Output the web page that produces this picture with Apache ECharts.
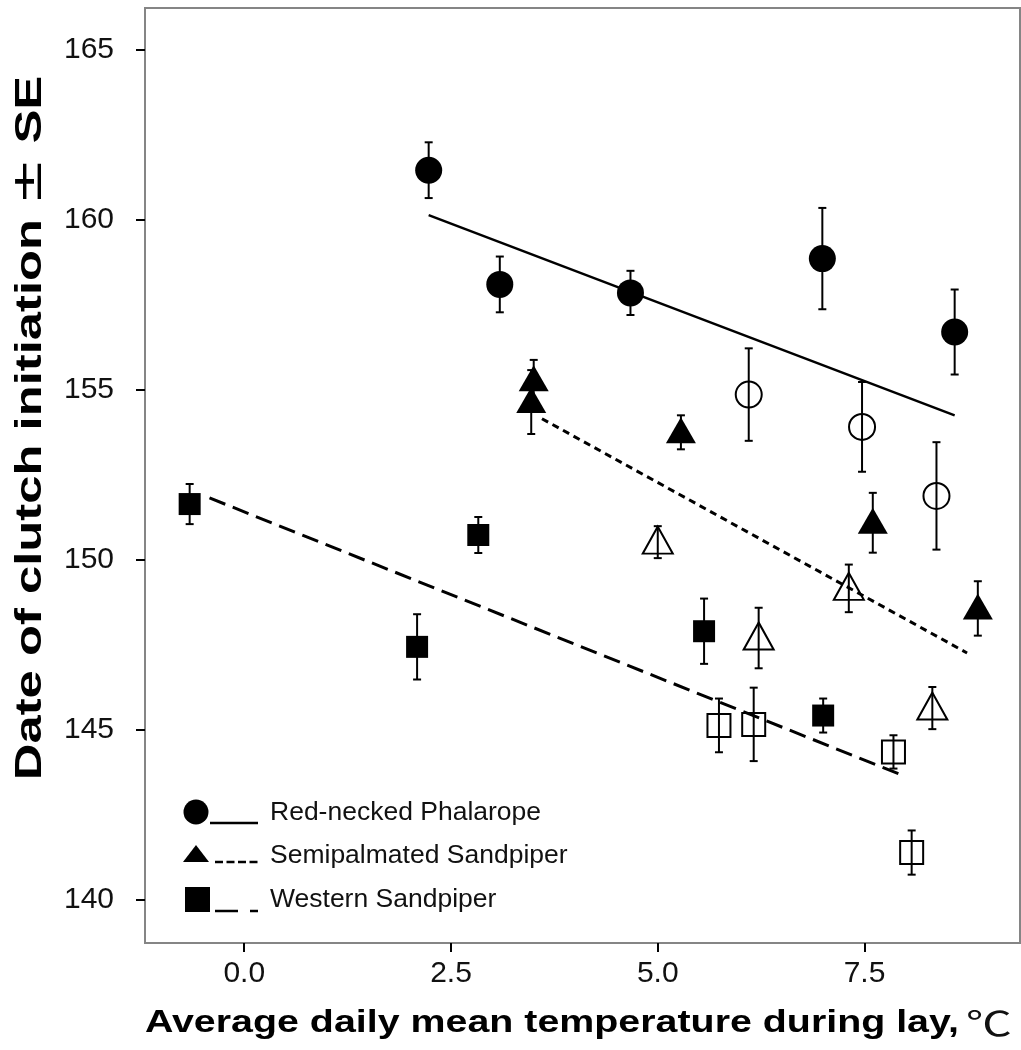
<!DOCTYPE html>
<html>
<head>
<meta charset="utf-8">
<script src="https://cdn.jsdelivr.net/npm/echarts@6/dist/echarts.min.js"></script>
<style>
  html, body { margin: 0; padding: 0; background: #fff; }
  #chart { width: 1021px; height: 1050px; }
</style>
</head>
<body>
<div id="chart"></div>
<script>
// Axis ticks
const xTicks = [0, 2.5, 5, 7.5];
const yTicks = [140, 145, 150, 155, 160, 165];

// Red-necked Phalarope: filled and open circles (mean date ± SE)
const phalTempFilled = [2.23, 3.09, 4.67, 6.99, 8.59];
const phalDateFilled = [161.47, 158.11, 157.86, 158.87, 156.71];
const phalSeFilled   = [0.82, 0.82, 0.65, 1.49, 1.25];
const phalTempOpen   = [6.10, 7.47, 8.37];
const phalDateOpen   = [154.87, 153.92, 151.89];
const phalSeOpen     = [1.36, 1.32, 1.58];

// Semipalmated Sandpiper: filled and open triangles
const semiTempFilled = [3.50, 3.47, 5.28, 7.60, 8.87];
const semiDateFilled = [155.29, 154.65, 153.76, 151.10, 148.58];
const semiSeFilled   = [0.60, 0.94, 0.50, 0.88, 0.80];
const semiTempOpen   = [5.00, 6.22, 7.31, 8.32];
const semiDateOpen   = [150.53, 147.71, 149.17, 145.65];
const semiSeOpen     = [0.47, 0.89, 0.70, 0.62];

// Western Sandpiper: filled and open squares
const westTempFilled = [-0.66, 2.09, 2.83, 5.56, 7.00];
const westDateFilled = [151.65, 147.45, 150.74, 147.91, 145.43];
const westSeFilled   = [0.59, 0.96, 0.53, 0.96, 0.50];
const westTempOpen   = [5.74, 6.16, 7.85, 8.07];
const westDateOpen   = [145.14, 145.17, 144.36, 141.40];
const westSeOpen     = [0.79, 1.08, 0.49, 0.65];

// Regression lines (end points)
const phalFitTemp = [2.23, 8.59];
const phalFitDate = [160.15, 154.26];
const semiFitTemp = [3.60, 8.74];
const semiFitDate = [154.16, 147.27];
const westFitTemp = [-0.42, 7.95];
const westFitDate = [151.83, 143.68];

const legendNames = ['Red-necked Phalarope', 'Semipalmated Sandpiper', 'Western Sandpiper'];
const xTitle = 'Average daily mean temperature during lay,';
const xUnit = '\u2103';
const yTitleHead = 'Date of clutch initiation ';
const yTitlePm = '\u00b1';
const yTitleTail = ' SE';

const INK = '#000';
const FONT = '"Liberation Sans", Arial, sans-serif';

const pairs = (xs, ys) => xs.map((x, i) => [x, ys[i]]);

function errorBars(xs, ys, se) {
  return {
    type: 'custom',
    silent: true,
    z: 1,
    encode: { x: 0, y: [1, 2] },
    data: xs.map((x, i) => [x, ys[i] - se[i], ys[i] + se[i]]),
    renderItem: (params, api) => {
      const lo = api.coord([api.value(0), api.value(1)]);
      const hi = api.coord([api.value(0), api.value(2)]);
      const cap = 4;
      const style = { stroke: INK, lineWidth: 2 };
      return {
        type: 'group',
        children: [
          { type: 'line', shape: { x1: lo[0], y1: lo[1], x2: hi[0], y2: hi[1] }, style },
          { type: 'line', shape: { x1: lo[0] - cap, y1: lo[1], x2: lo[0] + cap, y2: lo[1] }, style },
          { type: 'line', shape: { x1: hi[0] - cap, y1: hi[1], x2: hi[0] + cap, y2: hi[1] }, style }
        ]
      };
    }
  };
}

function points(xs, ys, symbol, size, filled, offset) {
  return {
    type: 'scatter',
    z: 3,
    symbol,
    symbolSize: size,
    symbolOffset: offset || [0, 0],
    data: pairs(xs, ys),
    itemStyle: filled
      ? { color: INK, borderWidth: 0, opacity: 1 }
      : { color: 'rgba(255,255,255,0)', borderColor: INK, borderWidth: 2, opacity: 1 },
    emphasis: { disabled: true }
  };
}

function fitLine(xs, ys, dash, width) {
  return {
    type: 'line',
    z: 2,
    symbol: 'none',
    data: pairs(xs, ys),
    lineStyle: { color: INK, width, type: dash },
    emphasis: { disabled: true }
  };
}

const chart = echarts.init(document.getElementById('chart'), null, { renderer: 'canvas' });

// Legend: marker, line sample and label per species
const legendX = 196, lineX1 = 215, lineX2 = 258, textX = 270;
const legendRows = [812, 855, 899];
const legendGraphics = [
  { type: 'circle', shape: { cx: legendX, cy: legendRows[0], r: 12.5 }, style: { fill: INK } },
  { type: 'line', shape: { x1: 210, y1: 823, x2: lineX2, y2: 823 }, style: { stroke: INK, lineWidth: 2.5 } },
  { type: 'polygon', shape: { points: [[legendX - 13, 862], [legendX, 845], [legendX + 13, 862]] }, style: { fill: INK } },
  { type: 'line', shape: { x1: lineX1, y1: 862, x2: lineX2, y2: 862 }, style: { stroke: INK, lineWidth: 2.5, lineDash: [8, 3.5] } },
  { type: 'rect', shape: { x: 185, y: 887, width: 25, height: 25 }, style: { fill: INK } },
  { type: 'line', shape: { x1: lineX1, y1: 911, x2: 238, y2: 911 }, style: { stroke: INK, lineWidth: 2.5 } },
  { type: 'line', shape: { x1: 250, y1: 911, x2: lineX2, y2: 911 }, style: { stroke: INK, lineWidth: 2.5 } }
].concat(legendNames.map((name, i) => ({
  type: 'text',
  x: textX, y: legendRows[i] + 1,
  scaleX: 1.06,
  style: {
    text: name, x: 0, y: 0,
    fontSize: 25, fontFamily: FONT, fill: '#111',
    align: 'left', verticalAlign: 'middle',
    textAlign: 'left', textVerticalAlign: 'middle'
  }
})));

const titleGraphics = [
  {
    type: 'text', x: 145, y: 1023, scaleX: 1.27,
    style: {
      text: xTitle, x: 0, y: 0,
      fontSize: 31, fontWeight: 'bold', fontFamily: FONT, fill: INK,
      align: 'left', verticalAlign: 'middle', textAlign: 'left', textVerticalAlign: 'middle'
    }
  },
  {
    type: 'text', x: 966, y: 1023, scaleX: 1.35,
    style: {
      text: xUnit, x: 0, y: 0,
      fontSize: 34, fontFamily: '"Noto Sans CJK SC", sans-serif', fill: '#111',
      align: 'left', verticalAlign: 'middle', textAlign: 'left', textVerticalAlign: 'middle'
    }
  },
  {
    type: 'text', x: 31, y: 428, rotation: Math.PI / 2, scaleX: 1.41,
    style: {
      text: '{b|' + yTitleHead + '}{n|' + yTitlePm + '}{b|' + yTitleTail + '}',
      x: 0, y: 0,
      fontSize: 36, fontWeight: 'bold', fontFamily: FONT, fill: INK,
      align: 'center', verticalAlign: 'middle', textAlign: 'center', textVerticalAlign: 'middle',
      rich: {
        b: { fontSize: 36, fontWeight: 'bold', fontFamily: FONT, fill: INK, color: INK },
        n: { fontSize: 40, fontWeight: 'normal', fontFamily: '"DejaVu Sans", sans-serif', fill: INK, color: INK }
      }
    }
  }
];

chart.setOption({
  animation: false,
  backgroundColor: '#fff',
  grid: {
    show: true,
    left: 145, top: 8, width: 875, height: 935,
    borderColor: '#858585', borderWidth: 2,
    backgroundColor: 'transparent'
  },
  xAxis: {
    type: 'value',
    min: -1.2, max: 9.38,
    axisLine: { show: false, onZero: false },
    splitLine: { show: false },
    axisTick: { show: true, inside: false, length: 9, customValues: xTicks, lineStyle: { color: INK, width: 2 } },
    axisLabel: {
      customValues: xTicks, margin: 16,
      fontSize: 30, fontFamily: FONT, color: '#111',
      formatter: v => v.toFixed(1)
    }
  },
  yAxis: {
    type: 'value',
    min: 138.74, max: 166.24,
    axisLine: { show: false, onZero: false },
    splitLine: { show: false },
    axisTick: { show: true, inside: false, length: 9, customValues: yTicks, lineStyle: { color: INK, width: 2 } },
    axisLabel: {
      customValues: yTicks, margin: 31,
      fontSize: 30, fontFamily: FONT, color: '#111'
    }
  },
  graphic: { elements: legendGraphics.concat(titleGraphics) },
  series: [
    errorBars(phalTempFilled, phalDateFilled, phalSeFilled),
    errorBars(phalTempOpen, phalDateOpen, phalSeOpen),
    errorBars(semiTempFilled, semiDateFilled, semiSeFilled),
    errorBars(semiTempOpen, semiDateOpen, semiSeOpen),
    errorBars(westTempFilled, westDateFilled, westSeFilled),
    errorBars(westTempOpen, westDateOpen, westSeOpen),
    fitLine(phalFitTemp, phalFitDate, 'solid', 2.5),
    fitLine(semiFitTemp, semiFitDate, [7, 5], 3),
    fitLine(westFitTemp, westFitDate, [17, 8], 3),
    points(phalTempFilled, phalDateFilled, 'circle', 27, true),
    points(phalTempOpen, phalDateOpen, 'circle', 26, false),
    points(semiTempFilled, semiDateFilled, 'triangle', [30, 26], true, [0, -2]),
    points(semiTempOpen, semiDateOpen, 'triangle', [30, 27], false, [0, -2]),
    points(westTempFilled, westDateFilled, 'rect', 22, true),
    points(westTempOpen, westDateOpen, 'rect', 23, false)
  ]
});
</script>
</body>
</html>
